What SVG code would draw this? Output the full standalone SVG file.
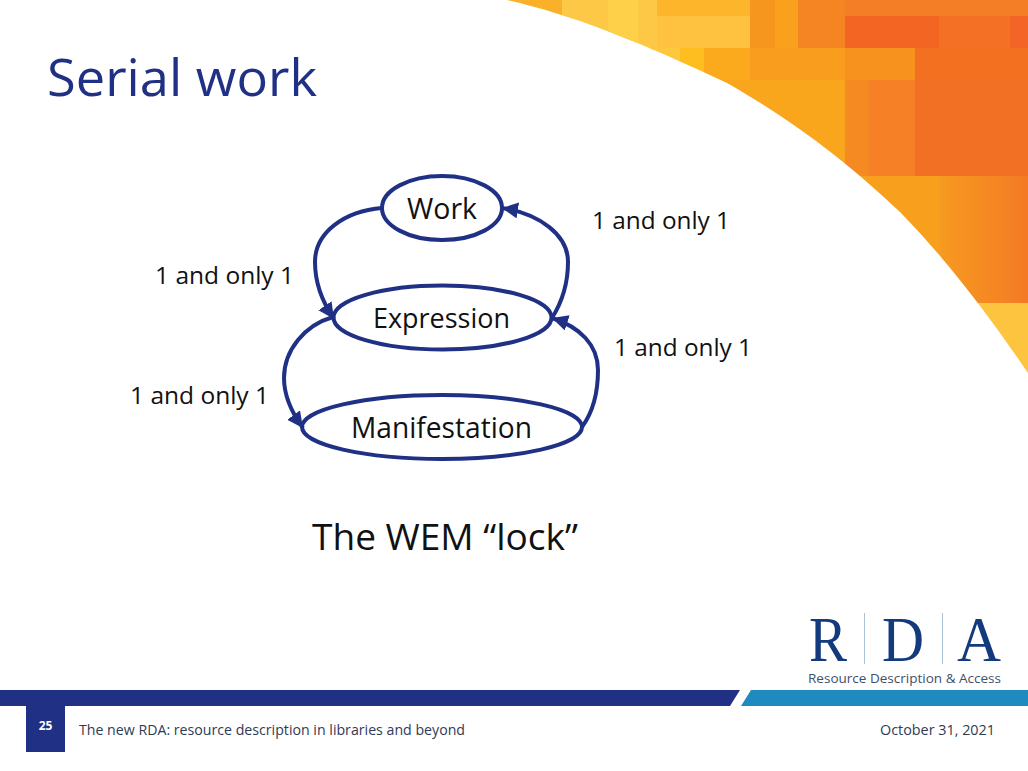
<svg xmlns="http://www.w3.org/2000/svg" width="1028" height="771" viewBox="0 0 1028 771">
<style>
.t{font-family:"Open Sans","Noto Sans","Liberation Sans",sans-serif}
.lab{font-size:24px;fill:#111}
.node{fill:#fff;stroke:#203185;stroke-width:4}
.con{fill:none;stroke:#203185;stroke-width:4;marker-end:url(#ah)}
.foot{font-size:14px;fill:#2f3a55}
.serif{font-family:"Liberation Serif",serif;font-size:64px;fill:#133a7c}
</style>
<defs>
<marker id="ah" markerUnits="userSpaceOnUse" markerWidth="18" markerHeight="18" refX="16" refY="8" orient="auto"><path d="M0 0L16 8L0 16Z" fill="#203185"/></marker>
<clipPath id="arc"><path d="M507 0C570 14 640 42 727 83C800 125 850 165 900 212C945 258 985 310 1028 373V0Z"/></clipPath>
<linearGradient id="g1"><stop offset="0" stop-color="#f79a20"/><stop offset="1" stop-color="#f47a24"/></linearGradient>
</defs>
<rect width="1028" height="771" fill="#fff"/>
<g id="corner" clip-path="url(#arc)">
<rect x="500" y="0" width="62" height="16" fill="#fbb02a"/>
<rect x="562" y="0" width="95" height="50" fill="#fdc845"/>
<rect x="608" y="0" width="30" height="50" fill="#fed04a"/>
<rect x="657" y="0" width="93" height="16" fill="#fdb52b"/>
<rect x="657" y="16" width="93" height="32" fill="#fec240"/>
<rect x="750" y="0" width="25" height="48" fill="#f7961f"/>
<rect x="775" y="0" width="23" height="48" fill="#f9a11d"/>
<rect x="798" y="0" width="47" height="48" fill="#f58523"/>
<rect x="845" y="0" width="183" height="16" fill="#f47e25"/>
<rect x="845" y="16" width="94" height="32" fill="#f26522"/>
<rect x="939" y="16" width="89" height="32" fill="#f37024"/>
<rect x="1010" y="16" width="18" height="32" fill="#f26526"/>
<rect x="640" y="48" width="40" height="32" fill="#fdc73e"/>
<rect x="680" y="48" width="24" height="32" fill="#febe20"/>
<rect x="704" y="48" width="46" height="32" fill="#fbaa1e"/>
<rect x="750" y="48" width="95" height="32" fill="#f99d1f"/>
<rect x="845" y="48" width="70" height="32" fill="#f8921f"/>
<rect x="915" y="48" width="113" height="32" fill="#f37021"/>
<rect x="700" y="80" width="145" height="96" fill="#faa61c"/>
<rect x="845" y="80" width="24" height="96" fill="#f68a22"/>
<rect x="869" y="80" width="46" height="96" fill="#f58025"/>
<rect x="915" y="80" width="113" height="96" fill="#f27024"/>
<rect x="840" y="176" width="100" height="127" fill="#f89f1e"/>
<rect x="940" y="176" width="88" height="127" fill="url(#g1)"/>
<rect x="950" y="303" width="78" height="80" fill="#fdc53f"/>
</g>
<text class="t" x="47" y="96" font-size="52" fill="#203185" textLength="270" lengthAdjust="spacingAndGlyphs">Serial work</text>
<g id="node-work"><ellipse class="node" cx="442" cy="208" rx="60" ry="32"/><text class="t" x="407" y="219" font-size="29" fill="#111" textLength="70" lengthAdjust="spacingAndGlyphs">Work</text></g>
<g id="node-expression"><ellipse class="node" cx="442.500" cy="317.500" rx="109" ry="32"/><text class="t" x="373" y="328" font-size="28" fill="#111" textLength="137" lengthAdjust="spacingAndGlyphs">Expression</text></g>
<g id="node-manifestation"><ellipse class="node" cx="442" cy="427" rx="140" ry="32"/><text class="t" x="351" y="438" font-size="30" fill="#111" textLength="181" lengthAdjust="spacingAndGlyphs">Manifestation</text></g>
<g id="connectors">
<path class="con" d="M382 208C345 211 315 232 315 262C315 285 323 303 334 319"/>
<path class="con" d="M552 318C562 302 568 282 568 262C568 235 540 214 502 208"/>
<path class="con" d="M333 317C305 325 284 350 284 378C284 397 292 413 303 428"/>
<path class="con" d="M582 427C593 412 598 392 598 370C598 345 580 327 552 318"/>
</g>
<text class="t lab" x="592" y="229" textLength="138" lengthAdjust="spacingAndGlyphs">1 and only 1</text>
<text class="t lab" x="155" y="284" textLength="139" lengthAdjust="spacingAndGlyphs">1 and only 1</text>
<text class="t lab" x="130" y="404" textLength="139" lengthAdjust="spacingAndGlyphs">1 and only 1</text>
<text class="t lab" x="614" y="356" textLength="138" lengthAdjust="spacingAndGlyphs">1 and only 1</text>
<text class="t" x="312" y="550" font-size="36" fill="#111" textLength="266" lengthAdjust="spacingAndGlyphs">The WEM “lock”</text>
<g id="logo">
<text class="serif" x="809" y="661" textLength="38" lengthAdjust="spacingAndGlyphs">R</text>
<text class="serif" x="882" y="661" textLength="42" lengthAdjust="spacingAndGlyphs">D</text>
<text class="serif" x="957" y="661" textLength="44" lengthAdjust="spacingAndGlyphs">A</text>
<rect x="864" y="613" width="1" height="51" fill="#a9c4d8"/>
<rect x="942" y="613" width="1" height="51" fill="#a9c4d8"/>
<text class="t" x="808" y="683" font-size="13" fill="#3f4f6b" textLength="193" lengthAdjust="spacingAndGlyphs">Resource Description &amp; Access</text>
</g>
<path d="M0 690H740L730 706H0Z" fill="#203185"/>
<path d="M751 690H1028V706H741Z" fill="#1f8ac0"/>
<rect x="26" y="706" width="39" height="46" fill="#203185"/>
<text class="t" x="45.500" y="730" font-size="12" font-weight="700" fill="#fff" text-anchor="middle">25</text>
<text class="t foot" x="79" y="735" textLength="386" lengthAdjust="spacingAndGlyphs">The new RDA: resource description in libraries and beyond</text>
<text class="t foot" x="880" y="735" textLength="115" lengthAdjust="spacingAndGlyphs">October 31, 2021</text>
</svg>
